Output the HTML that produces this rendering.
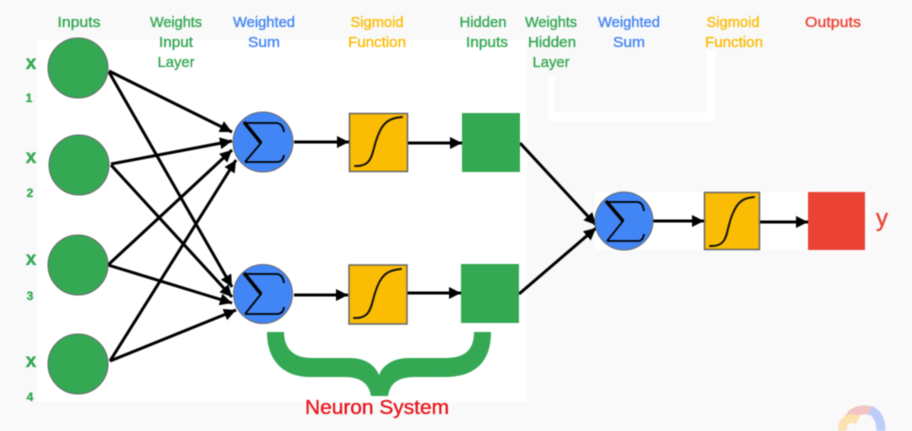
<!DOCTYPE html>
<html><head><meta charset="utf-8"><style>
html,body{margin:0;padding:0;background:#f9f9f9;width:912px;height:431px;overflow:hidden}
svg{display:block;filter:blur(.4px)}
text{font-family:"Liberation Sans","DejaVu Sans",sans-serif;font-size:15px;stroke-width:.35px;paint-order:stroke}
</style></head><body>
<svg width="912" height="431" viewBox="0 0 912 431" xmlns="http://www.w3.org/2000/svg">
<defs>
<marker id="a" markerUnits="userSpaceOnUse" markerWidth="14" markerHeight="14" refX="13" refY="7" orient="auto"><path d="M1 1 L13 7 L1 13Z" fill="#000"/></marker>
</defs>
<rect width="912" height="431" fill="#f9f9f9"/>
<rect x="37" y="40" width="490" height="362" fill="#fff"/>
<rect x="595" y="192" width="275" height="58" fill="#fff"/>
<path d="M550 76V117H711V50" fill="none" stroke="#fff" stroke-width="9"/>
<rect x="527" y="40" width="21" height="84" fill="#f9f9f9"/>

<g stroke="#000" stroke-width="3" fill="none" marker-end="url(#a)">
<path d="M109 71L232 132"/>
<path d="M111 164L232 141"/>
<path d="M108 265L232 150"/>
<path d="M110 361L236 160"/>
<path d="M109 72L232 287"/>
<path d="M111 165L232 297"/>
<path d="M108 265L232 303"/>
<path d="M110 361L236 310"/>
<path d="M294 142L349 142"/>
<path d="M408 143L462 143"/>
<path d="M294 295L348 295"/>
<path d="M407 293L461 293"/>
<path d="M520 143L596 225"/>
<path d="M519 294L596 228"/>
<path d="M653 221L704 221"/>
<path d="M760 222L808 222"/>
</g>

<g fill="#34a853" stroke="#6b6b6b" stroke-width="1">
<circle cx="78" cy="68" r="30"/>
<circle cx="79" cy="165" r="30"/>
<circle cx="78" cy="265" r="30"/>
<circle cx="78" cy="364" r="30"/>
</g>
<g fill="#4285f4" stroke="#6b6b6b" stroke-width="1">
<circle cx="263" cy="142" r="30"/>
<circle cx="263" cy="294" r="29.5"/>
<circle cx="624" cy="221" r="29"/>
</g>
<g fill="none" stroke="#000" stroke-width="1.8">
<path d="M245 123H277Q283 124 284 132M245 162H277Q283 162 284 155M245 123L261 143L245 162"/><path d="M244 122L261 143" stroke-width="3.4"/>
<path d="M245 274H277Q283 275 284 283M245 314H277Q283 314 284 307M245 274L261 294L245 314"/><path d="M244 273L261 294" stroke-width="3.4"/>
<path d="M607 202H638Q643 203 644 211M607 241H638Q643 241 644 234M607 202L623 221L607 241"/><path d="M606 201L623 221" stroke-width="3.4"/>
</g>

<g fill="#fbbc04" stroke="#666" stroke-width="1.5">
<rect x="349.500" y="113.500" width="58" height="58"/>
<rect x="349" y="265" width="58" height="59"/>
<rect x="704.500" y="192.500" width="55" height="57"/>
</g>
<g fill="none" stroke="#111" stroke-width="2" stroke-linecap="round">
<path d="M355 166C375 167 371 150 379 133C384 121 391 118 402 117"/>
<path d="M354 318C374 319 370 302 378 285C383 273 390 270 401 269"/>
<path d="M710 246C730 247 725 230 733 213C738 201 744 198 754 197"/>
</g>
<rect x="462" y="113" width="58" height="59" fill="#34a853"/>
<rect x="461" y="264" width="58" height="59" fill="#34a853"/>
<rect x="808" y="192" width="57" height="58" fill="#ea4335"/>

<path d="M267 332H284C284 350 295 358 312 358H350C365 358 375 365 379 375C383 365 393 358 410 358H445C465 358 474 350 474 332H491C491 362 475 377 445 377H415C400 377 390 382 388 396H371C369 382 358 377 345 377H310C285 377 267 362 267 332Z" fill="#34a853"/>

<g fill="#34a853" stroke="#34a853" text-anchor="middle">
<text x="79" y="27" textLength="43" lengthAdjust="spacingAndGlyphs">Inputs</text>
<text x="176" y="27" textLength="52" lengthAdjust="spacingAndGlyphs">Weights</text>
<text x="176" y="47" textLength="34" lengthAdjust="spacingAndGlyphs">Input</text>
<text x="176" y="67" textLength="37" lengthAdjust="spacingAndGlyphs">Layer</text>
<text x="483" y="27" textLength="47" lengthAdjust="spacingAndGlyphs">Hidden</text>
<text x="487" y="47" textLength="42" lengthAdjust="spacingAndGlyphs">Inputs</text>
<text x="551" y="27" textLength="52" lengthAdjust="spacingAndGlyphs">Weights</text>
<text x="552" y="47" textLength="48" lengthAdjust="spacingAndGlyphs">Hidden</text>
<text x="551" y="67" textLength="37" lengthAdjust="spacingAndGlyphs">Layer</text>
<text x="31" y="69" style="font-size:19px;font-weight:bold">x</text>
<text x="29" y="102" style="font-size:12px;font-weight:bold">1</text>
<text x="31" y="163" style="font-size:19px;font-weight:bold">x</text>
<text x="30" y="197" style="font-size:12px;font-weight:bold">2</text>
<text x="31" y="265" style="font-size:19px;font-weight:bold">x</text>
<text x="30" y="300" style="font-size:12px;font-weight:bold">3</text>
<text x="31" y="367" style="font-size:19px;font-weight:bold">x</text>
<text x="30" y="401" style="font-size:12px;font-weight:bold">4</text>
</g>
<g fill="#4285f4" stroke="#4285f4" text-anchor="middle">
<text x="264" y="27" textLength="62" lengthAdjust="spacingAndGlyphs">Weighted</text>
<text x="264" y="47" textLength="32" lengthAdjust="spacingAndGlyphs">Sum</text>
<text x="629" y="27" textLength="62" lengthAdjust="spacingAndGlyphs">Weighted</text>
<text x="629" y="47" textLength="32" lengthAdjust="spacingAndGlyphs">Sum</text>
</g>
<g fill="#fbbc04" stroke="#fbbc04" text-anchor="middle">
<text x="377" y="27" textLength="53" lengthAdjust="spacingAndGlyphs">Sigmoid</text>
<text x="377" y="47" textLength="58" lengthAdjust="spacingAndGlyphs">Function</text>
<text x="733" y="27" textLength="53" lengthAdjust="spacingAndGlyphs">Sigmoid</text>
<text x="734" y="47" textLength="58" lengthAdjust="spacingAndGlyphs">Function</text>
</g>
<g fill="#ea4335" stroke="#ea4335" text-anchor="middle">
<text x="833" y="27" textLength="56" lengthAdjust="spacingAndGlyphs">Outputs</text>
<text x="882" y="226" style="font-size:24px">y</text>
</g>
<text x="377" y="414" text-anchor="middle" fill="#e8141c" stroke="#e8141c" style="font-size:20px" textLength="144" lengthAdjust="spacingAndGlyphs">Neuron System</text>

<g fill="none" stroke-width="9">
<path d="M848 421C851 411 861 408 872 411" stroke="#f3c4c4"/>
<path d="M870 410C879 414 881 423 881 431" stroke="#bccdf8"/>
<path d="M843 431C841 421 850 416 858 420" stroke="#fbe0b0"/>
</g>
</svg>
</body></html>
